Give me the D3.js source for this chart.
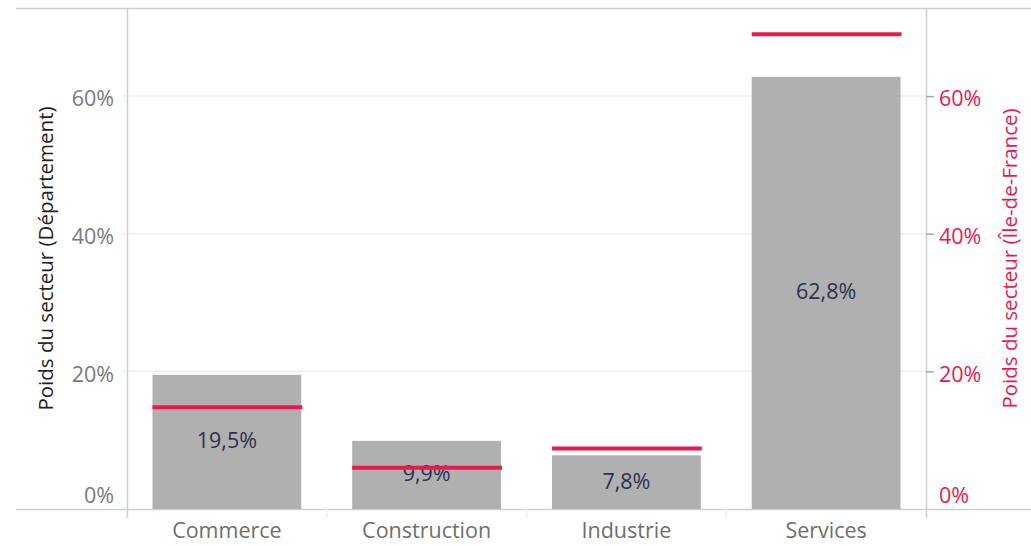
<!DOCTYPE html>
<html>
<head>
<meta charset="utf-8">
<script src="https://cdn.jsdelivr.net/npm/d3@7"></script>
<style>
  html, body { margin: 0; padding: 0; background: #fff; }
  svg { display: block; font-family: "Open Sans", "Noto Sans", sans-serif; }
</style>
</head>
<body>
<svg id="chart" width="1031" height="546"></svg>
<script>
// ---- data ----
const categories = ["Commerce", "Construction", "Industrie", "Services"];
const departement = [0.195, 0.099, 0.078, 0.628];
const ileDeFrance = [0.148, 0.060, 0.088, 0.690];
const tickValues = [0, 0.2, 0.4, 0.6];
const leftTitle = "Poids du secteur (Département)";
const rightTitle = "Poids du secteur (Île-de-France)";

// ---- layout ----
const W = 1031, H = 546;
const plotLeft = 127, plotRight = 926, plotTop = 8, plotBottom = 509;
const yMax = 0.728;
const red = "#e8194f";
const FS = 21.5;

const fr = d3.formatLocale({decimal: ",", thousands: "\u00a0", grouping: [3], currency: ["", " €"], percent: "%"});
const pct1 = fr.format(".1%");
const pct0 = fr.format(".0%");

const svg = d3.select("#chart");

const x = d3.scaleBand().domain(categories).range([plotLeft, plotRight])
  .paddingInner(0.255).paddingOuter(0.1275);
const y = d3.scaleLinear().domain([0, yMax]).range([plotBottom, plotTop]);
const y2 = d3.scaleLinear().domain([0, yMax]).range([plotBottom, plotTop]);

// gridlines
svg.append("g").selectAll("line").data(tickValues.filter(d => d > 0)).join("line")
  .attr("x1", plotLeft - 5).attr("x2", plotRight)
  .attr("y1", d => y(d)).attr("y2", d => y(d))
  .attr("stroke", "#efefef").attr("stroke-width", 1.5);

// frame lines
svg.append("line").attr("x1", 16).attr("x2", W).attr("y1", plotTop + 0.5).attr("y2", plotTop + 0.5)
  .attr("stroke", "#cfcfcf").attr("stroke-width", 1.5);
svg.append("line").attr("x1", 16).attr("x2", W).attr("y1", plotBottom + 0.5).attr("y2", plotBottom + 0.5)
  .attr("stroke", "#cfcfcf").attr("stroke-width", 1.5);
svg.append("line").attr("x1", plotLeft + 0.5).attr("x2", plotLeft + 0.5).attr("y1", plotTop).attr("y2", plotBottom + 9)
  .attr("stroke", "#cfcfcf").attr("stroke-width", 1.5);
svg.append("line").attr("x1", plotRight + 0.5).attr("x2", plotRight + 0.5).attr("y1", plotTop).attr("y2", plotBottom + 9)
  .attr("stroke", "#cfcfcf").attr("stroke-width", 1.5);

// category separators
const step = x.step();
svg.append("g").selectAll("line").data(categories.slice(1)).join("line")
  .attr("x1", d => x(d) - x.paddingInner() * step / 2)
  .attr("x2", d => x(d) - x.paddingInner() * step / 2)
  .attr("y1", plotBottom).attr("y2", plotBottom + 9)
  .attr("stroke", "#eeeeee").attr("stroke-width", 1.5);

// bars
svg.append("g").selectAll("rect").data(categories).join("rect")
  .attr("x", d => x(d)).attr("width", x.bandwidth())
  .attr("y", (d, i) => y(departement[i]))
  .attr("height", (d, i) => y(0) - y(departement[i]))
  .attr("fill", "#b0b0b0");

// bar labels
svg.append("g").selectAll("text").data(categories).join("text")
  .attr("x", d => x(d) + x.bandwidth() / 2)
  .attr("y", (d, i) => (y(departement[i]) + y(0)) / 2)
  .attr("dy", "0.3em")
  .attr("text-anchor", "middle")
  .attr("font-size", FS)
  .attr("fill", "#2d3150")
  .text((d, i) => pct1(departement[i]));

// red reference lines
svg.append("g").selectAll("line").data(categories).join("line")
  .attr("x1", d => x(d)).attr("x2", d => x(d) + x.bandwidth() + 1)
  .attr("y1", (d, i) => y2(ileDeFrance[i])).attr("y2", (d, i) => y2(ileDeFrance[i]))
  .attr("stroke", red).attr("stroke-width", 4);

// left axis labels
const leftAxis = d3.axisLeft(y).tickValues(tickValues).tickSize(0).tickPadding(13).tickFormat(pct0);
const gl = svg.append("g").attr("transform", `translate(${plotLeft},0)`).call(leftAxis);
gl.select(".domain").remove();
gl.selectAll("text").attr("font-size", FS).attr("fill", "#7a7a7a")
  .attr("font-family", "Open Sans, Noto Sans, sans-serif")
  .attr("dy", d => d === 0 ? "-0.32em" : "0.45em");

// right axis
const rightAxis = d3.axisRight(y2).tickValues(tickValues).tickSize(8).tickPadding(5).tickFormat(pct0);
const gr = svg.append("g").attr("transform", `translate(${plotRight},0)`).call(rightAxis);
gr.select(".domain").remove();
gr.selectAll(".tick line").attr("stroke", "#aaaaaa").attr("stroke-width", 1.5)
  .attr("display", d => d === 0 ? "none" : null);
gr.selectAll("text").attr("font-size", FS).attr("fill", red)
  .attr("font-family", "Open Sans, Noto Sans, sans-serif")
  .attr("x", 13)
  .attr("dy", d => d === 0 ? "-0.32em" : "0.45em");

// category labels
const xAxis = d3.axisBottom(x).tickSize(0).tickPadding(14);
const gx = svg.append("g").attr("transform", `translate(0,${plotBottom})`).call(xAxis);
gx.select(".domain").remove();
gx.selectAll("text").attr("font-size", 21.5).attr("fill", "#6f6f6f")
  .attr("font-family", "Open Sans, Noto Sans, sans-serif");

// titles
svg.append("text")
  .attr("transform", `translate(53,${(plotTop + plotBottom) / 2}) rotate(-90)`)
  .attr("text-anchor", "middle").attr("font-size", 20.5).attr("fill", "#222")
  .text(leftTitle);
svg.append("text")
  .attr("transform", `translate(1017,${(plotTop + plotBottom) / 2}) rotate(-90)`)
  .attr("text-anchor", "middle").attr("font-size", 20.5).attr("fill", red)
  .text(rightTitle);
</script>
</body>
</html>
